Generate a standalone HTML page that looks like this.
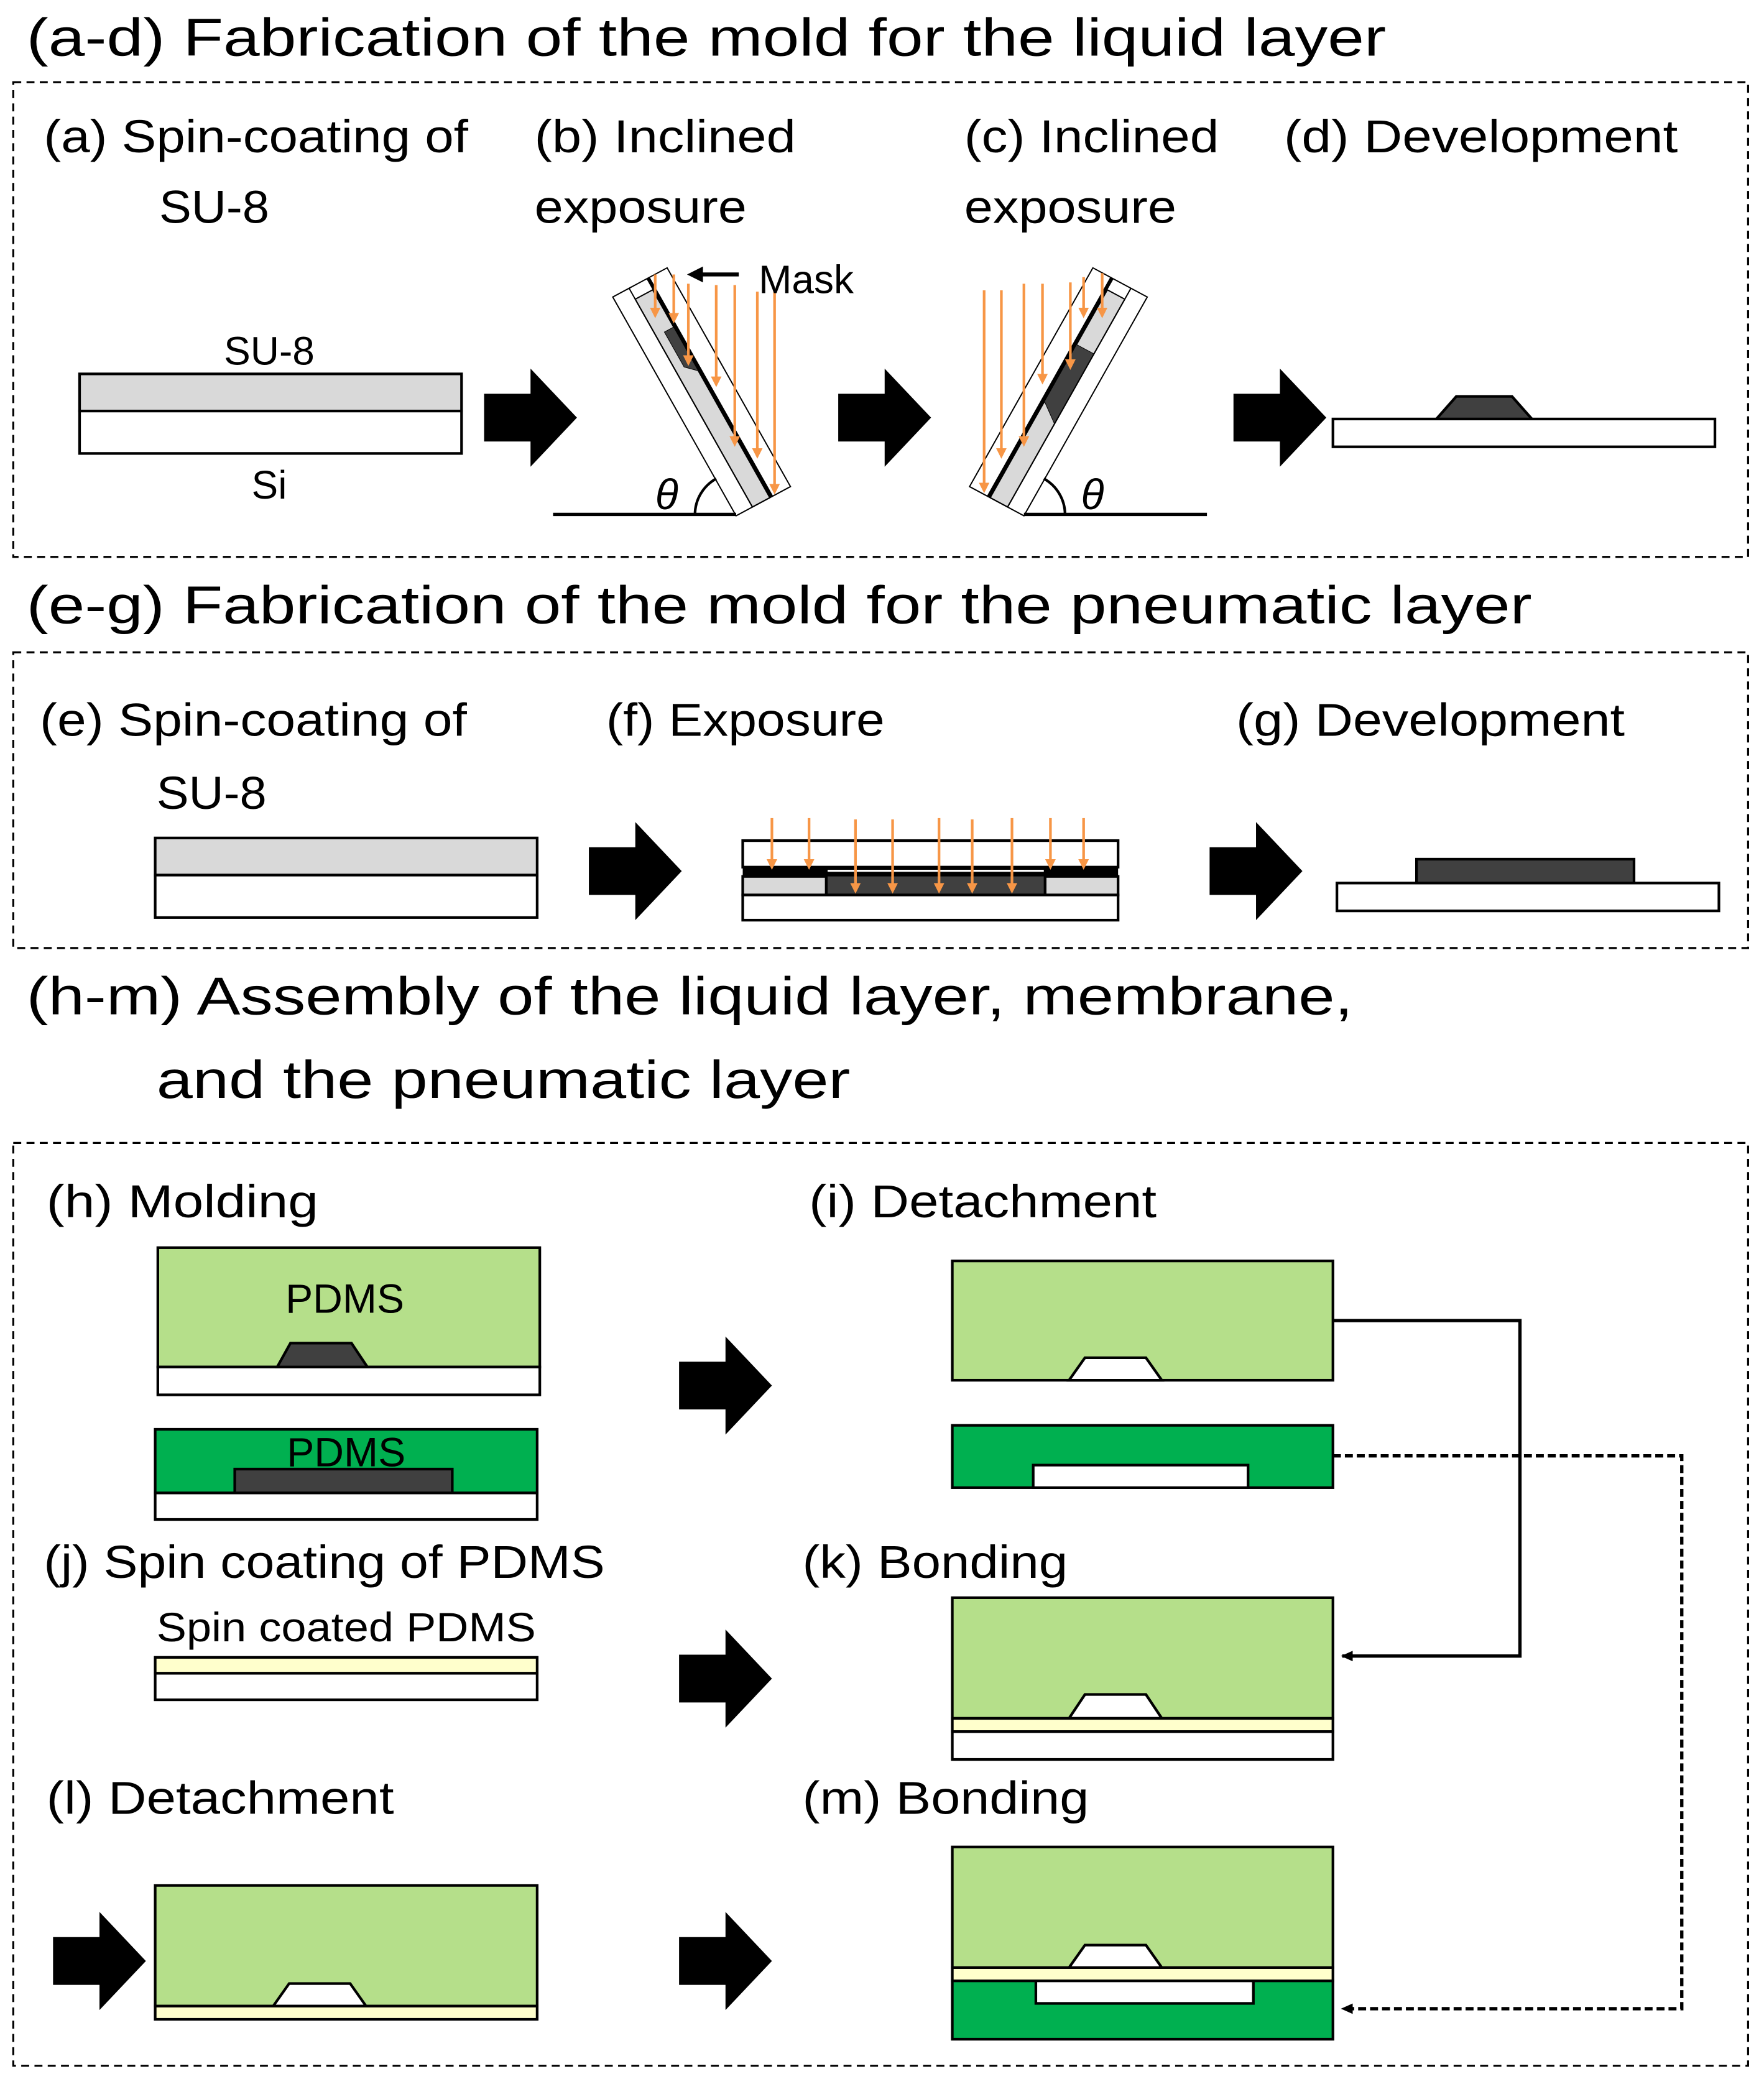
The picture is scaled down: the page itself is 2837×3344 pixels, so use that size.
<!DOCTYPE html>
<html><head><meta charset="utf-8"><style>
html,body{margin:0;padding:0;background:#fff}
svg{display:block}
text{font-family:"Liberation Sans",sans-serif;fill:#000}
</style></head><body>
<svg width="2837" height="3344" viewBox="0 0 1330 1568" preserveAspectRatio="none" xmlns="http://www.w3.org/2000/svg">
<defs>
<marker id="oa" markerWidth="4" markerHeight="4" refX="2" refY="2" orient="auto" markerUnits="strokeWidth"><path d="M0,0 L4,2 L0,4 z" fill="#f79646"/></marker>
<marker id="ka" markerWidth="10" markerHeight="10" refX="8" refY="5" orient="auto" markerUnits="userSpaceOnUse"><path d="M0,1 L9,5 L0,9 z" fill="#000"/></marker>
<g id="barrow"><path d="M0,-18 L35,-18 L35,-37 L70,0 L35,37 L35,18 L0,18 z" fill="#000"/></g>
</defs>
<rect width="1330" height="1568" fill="#fff"/>

<!-- Section 1 -->
<text x="20" y="42" font-size="40" textLength="1025" lengthAdjust="spacingAndGlyphs">(a-d) Fabrication of the mold for the liquid layer</text>
<rect x="10" y="62" width="1308" height="358" fill="none" stroke="#000" stroke-width="1.5" stroke-dasharray="6,4"/>
<g font-size="35">
<text x="33" y="115" textLength="320" lengthAdjust="spacingAndGlyphs">(a) Spin-coating of</text>
<text x="120" y="168" textLength="83" lengthAdjust="spacingAndGlyphs">SU-8</text>
<text x="403" y="115" textLength="197" lengthAdjust="spacingAndGlyphs">(b) Inclined</text>
<text x="403" y="168" textLength="160" lengthAdjust="spacingAndGlyphs">exposure</text>
<text x="727" y="115" textLength="192" lengthAdjust="spacingAndGlyphs">(c) Inclined</text>
<text x="727" y="168" textLength="160" lengthAdjust="spacingAndGlyphs">exposure</text>
<text x="968" y="115" textLength="297" lengthAdjust="spacingAndGlyphs">(d) Development</text>
</g>
<!-- (a) -->
<text x="203" y="275" font-size="30" text-anchor="middle">SU-8</text>
<rect x="60" y="282" width="288" height="28" fill="#d9d9d9" stroke="#000" stroke-width="2"/>
<rect x="60" y="310" width="288" height="32" fill="#fff" stroke="#000" stroke-width="2"/>
<text x="203" y="376" font-size="30" text-anchor="middle">Si</text>
<use href="#barrow" x="365" y="315"/>

<!-- (b) slab -->
<g transform="matrix(41,-22,93,165,462,224)">
<rect x="0" y="0" width="1" height="1" fill="#fff"/>
<rect x="0.3" y="0.05" width="0.32" height="0.95" fill="#d9d9d9" stroke="#000" stroke-width="2" vector-effect="non-scaling-stroke"/>
<path d="M0.45,0.22 L0.62,0.22 L0.62,0.42 L0.45,0.38 z" fill="#404040" stroke="#000" stroke-width="1" vector-effect="non-scaling-stroke"/>
<line x1="0.3" y1="0" x2="0.3" y2="1" stroke="#000" stroke-width="2" vector-effect="non-scaling-stroke"/>
<rect x="0.62" y="0" width="0.06" height="1" fill="#000"/>
<rect x="0" y="0" width="1" height="1" fill="none" stroke="#000" stroke-width="2" vector-effect="non-scaling-stroke"/>
</g>
<g stroke="#f79646" stroke-width="2" marker-end="url(#oa)">
<line x1="494" y1="207" x2="494" y2="236"/>
<line x1="508" y1="207" x2="508" y2="240"/>
<line x1="519" y1="214" x2="519" y2="272"/>
<line x1="540" y1="215" x2="540" y2="288"/>
<line x1="554" y1="215" x2="554" y2="333"/>
<line x1="571" y1="220" x2="571" y2="342"/>
<line x1="584" y1="220" x2="584" y2="369"/>
</g>
<line x1="557" y1="207" x2="528" y2="207" stroke="#000" stroke-width="3"/>
<path d="M518,207 L530,201 L530,213 z" fill="#000"/>
<text x="572" y="221" font-size="30">Mask</text>
<line x1="417" y1="388" x2="555" y2="388" stroke="#000" stroke-width="2.5"/>
<path d="M524,388 A31,31 0 0 1 540,361" fill="none" stroke="#000" stroke-width="2"/>
<text x="494" y="384" font-size="32" font-style="italic" font-family="Liberation Serif">θ</text>
<use href="#barrow" x="632" y="315"/>

<!-- (c) slab -->
<g transform="matrix(-41,-22,-93,165,865,224)">
<rect x="0" y="0" width="1" height="1" fill="#fff"/>
<rect x="0.3" y="0.05" width="0.32" height="0.95" fill="#d9d9d9" stroke="#000" stroke-width="2" vector-effect="non-scaling-stroke"/>
<path d="M0.3,0.3 L0.62,0.3 L0.62,0.56 L0.3,0.62 z" fill="#404040" stroke="#000" stroke-width="1" vector-effect="non-scaling-stroke"/>
<line x1="0.3" y1="0" x2="0.3" y2="1" stroke="#000" stroke-width="2" vector-effect="non-scaling-stroke"/>
<rect x="0.62" y="0" width="0.06" height="1" fill="#000"/>
<rect x="0" y="0" width="1" height="1" fill="none" stroke="#000" stroke-width="2" vector-effect="non-scaling-stroke"/>
</g>
<g stroke="#f79646" stroke-width="2" marker-end="url(#oa)">
<line x1="742" y1="219" x2="742" y2="368"/>
<line x1="755" y1="219" x2="755" y2="342"/>
<line x1="772" y1="214" x2="772" y2="333"/>
<line x1="786" y1="214" x2="786" y2="286"/>
<line x1="807" y1="213" x2="807" y2="275"/>
<line x1="817" y1="209" x2="817" y2="236"/>
<line x1="831" y1="206" x2="831" y2="236"/>
</g>
<line x1="772" y1="388" x2="910" y2="388" stroke="#000" stroke-width="2.5"/>
<path d="M803,388 A31,31 0 0 0 787,361" fill="none" stroke="#000" stroke-width="2"/>
<text x="815" y="384" font-size="32" font-style="italic" font-family="Liberation Serif">θ</text>
<use href="#barrow" x="930" y="315"/>
<!-- (d) -->
<rect x="1005" y="316" width="288" height="21" fill="#fff" stroke="#000" stroke-width="2"/>
<path d="M1083,316 L1098,299 L1140,299 L1155,316 z" fill="#404040" stroke="#000" stroke-width="2"/>

<!-- Section 2 -->
<text x="20" y="470" font-size="40" textLength="1135" lengthAdjust="spacingAndGlyphs">(e-g) Fabrication of the mold for the pneumatic layer</text>
<rect x="10" y="492" width="1308" height="223" fill="none" stroke="#000" stroke-width="1.5" stroke-dasharray="6,4"/>
<g font-size="35">
<text x="30" y="555" textLength="322" lengthAdjust="spacingAndGlyphs">(e) Spin-coating of</text>
<text x="118" y="610" textLength="83" lengthAdjust="spacingAndGlyphs">SU-8</text>
<text x="457" y="555" textLength="210" lengthAdjust="spacingAndGlyphs">(f) Exposure</text>
<text x="932" y="555" textLength="293" lengthAdjust="spacingAndGlyphs">(g) Development</text>
</g>
<rect x="117" y="632" width="288" height="28" fill="#d9d9d9" stroke="#000" stroke-width="2"/>
<rect x="117" y="660" width="288" height="32" fill="#fff" stroke="#000" stroke-width="2"/>
<use href="#barrow" x="444" y="657"/>
<!-- (f) -->
<rect x="560" y="634" width="283" height="20" fill="#fff" stroke="#000" stroke-width="2"/>
<rect x="560" y="654" width="283" height="7" fill="#000"/>
<rect x="624" y="656" width="163" height="1.5" fill="#fff"/>
<rect x="560" y="661" width="63" height="14" fill="#d9d9d9" stroke="#000" stroke-width="2"/>
<rect x="623" y="660" width="165" height="15" fill="#404040" stroke="#000" stroke-width="2"/>
<rect x="788" y="661" width="55" height="14" fill="#d9d9d9" stroke="#000" stroke-width="2"/>
<rect x="560" y="675" width="283" height="19" fill="#fff" stroke="#000" stroke-width="2"/>
<g stroke="#f79646" stroke-width="2" marker-end="url(#oa)">
<line x1="582" y1="617" x2="582" y2="652"/>
<line x1="610" y1="617" x2="610" y2="652"/>
<line x1="645" y1="618" x2="645" y2="670"/>
<line x1="673" y1="618" x2="673" y2="670"/>
<line x1="708" y1="617" x2="708" y2="670"/>
<line x1="733" y1="618" x2="733" y2="670"/>
<line x1="763" y1="617" x2="763" y2="670"/>
<line x1="792" y1="617" x2="792" y2="652"/>
<line x1="817" y1="617" x2="817" y2="652"/>
</g>
<use href="#barrow" x="912" y="657"/>
<rect x="1008" y="666" width="288" height="21" fill="#fff" stroke="#000" stroke-width="2"/>
<rect x="1068" y="648" width="164" height="18" fill="#404040" stroke="#000" stroke-width="2"/>

<!-- Section 3 -->
<text x="20" y="765" font-size="40" textLength="1000" lengthAdjust="spacingAndGlyphs">(h-m) Assembly of the liquid layer, membrane,</text>
<text x="118" y="828" font-size="40" textLength="523" lengthAdjust="spacingAndGlyphs">and the pneumatic layer</text>
<rect x="10" y="862" width="1308" height="696" fill="none" stroke="#000" stroke-width="1.5" stroke-dasharray="6,4"/>
<g font-size="35">
<text x="35" y="918" textLength="205" lengthAdjust="spacingAndGlyphs">(h) Molding</text>
<text x="610" y="918" textLength="262" lengthAdjust="spacingAndGlyphs">(i) Detachment</text>
<text x="33" y="1190" textLength="423" lengthAdjust="spacingAndGlyphs">(j) Spin coating of PDMS</text>
<text x="605" y="1190" textLength="200" lengthAdjust="spacingAndGlyphs">(k) Bonding</text>
<text x="35" y="1368" textLength="262" lengthAdjust="spacingAndGlyphs">(l) Detachment</text>
<text x="605" y="1368" textLength="216" lengthAdjust="spacingAndGlyphs">(m) Bonding</text>
</g>
<!-- (h) -->
<rect x="119" y="941" width="288" height="90" fill="#b5df8a" stroke="#000" stroke-width="2"/>
<rect x="119" y="1031" width="288" height="21" fill="#fff" stroke="#000" stroke-width="2"/>
<path d="M209,1031 L219,1013 L265,1013 L277,1031 z" fill="#404040" stroke="#000" stroke-width="2"/>
<text x="260" y="990" font-size="31" text-anchor="middle">PDMS</text>
<rect x="117" y="1078" width="288" height="48" fill="#00b050" stroke="#000" stroke-width="2"/>
<rect x="177" y="1108" width="164" height="18" fill="#404040" stroke="#000" stroke-width="2"/>
<rect x="117" y="1126" width="288" height="20" fill="#fff" stroke="#000" stroke-width="2"/>
<text x="261" y="1106" font-size="31" text-anchor="middle">PDMS</text>
<use href="#barrow" x="512" y="1045"/>
<!-- (i) -->
<rect x="718" y="951" width="287" height="90" fill="#b5df8a" stroke="#000" stroke-width="2"/>
<path d="M806,1041 L818,1024 L864,1024 L876,1041 z" fill="#fff" stroke="#000" stroke-width="2"/>
<rect x="718" y="1075" width="287" height="47" fill="#00b050" stroke="#000" stroke-width="2"/>
<rect x="779" y="1105" width="162" height="17" fill="#fff" stroke="#000" stroke-width="2"/>
<!-- connectors -->
<polyline points="1005,996 1146,996 1146,1249 1012,1249" fill="none" stroke="#000" stroke-width="2.5" marker-end="url(#ka)"/>
<polyline points="1005,1098 1268,1098 1268,1515 1012,1515" fill="none" stroke="#000" stroke-width="2.5" stroke-dasharray="6,3" marker-end="url(#ka)"/>
<!-- (j) -->
<text x="118" y="1238" font-size="31" textLength="286" lengthAdjust="spacingAndGlyphs">Spin coated PDMS</text>
<rect x="117" y="1250" width="288" height="12" fill="#ffffcc" stroke="#000" stroke-width="2"/>
<rect x="117" y="1262" width="288" height="20" fill="#fff" stroke="#000" stroke-width="2"/>
<use href="#barrow" x="512" y="1266"/>
<!-- (k) -->
<rect x="718" y="1205" width="287" height="91" fill="#b5df8a" stroke="#000" stroke-width="2"/>
<path d="M806,1296 L818,1278 L864,1278 L876,1296 z" fill="#fff" stroke="#000" stroke-width="2"/>
<rect x="718" y="1296" width="287" height="10" fill="#ffffcc" stroke="#000" stroke-width="2"/>
<rect x="718" y="1306" width="287" height="21" fill="#fff" stroke="#000" stroke-width="2"/>
<!-- (l) -->
<use href="#barrow" x="40" y="1479"/>
<rect x="117" y="1422" width="288" height="91" fill="#b5df8a" stroke="#000" stroke-width="2"/>
<path d="M206,1513 L218,1496 L264,1496 L276,1513 z" fill="#fff" stroke="#000" stroke-width="2"/>
<rect x="117" y="1513" width="288" height="10" fill="#ffffcc" stroke="#000" stroke-width="2"/>
<use href="#barrow" x="512" y="1479"/>
<!-- (m) -->
<rect x="718" y="1393" width="287" height="91" fill="#b5df8a" stroke="#000" stroke-width="2"/>
<path d="M806,1484 L818,1467 L864,1467 L876,1484 z" fill="#fff" stroke="#000" stroke-width="2"/>
<rect x="718" y="1484" width="287" height="10" fill="#ffffcc" stroke="#000" stroke-width="2"/>
<rect x="718" y="1494" width="287" height="44" fill="#00b050" stroke="#000" stroke-width="2"/>
<rect x="781" y="1494" width="164" height="17" fill="#fff" stroke="#000" stroke-width="2"/>
</svg>
</body></html>
